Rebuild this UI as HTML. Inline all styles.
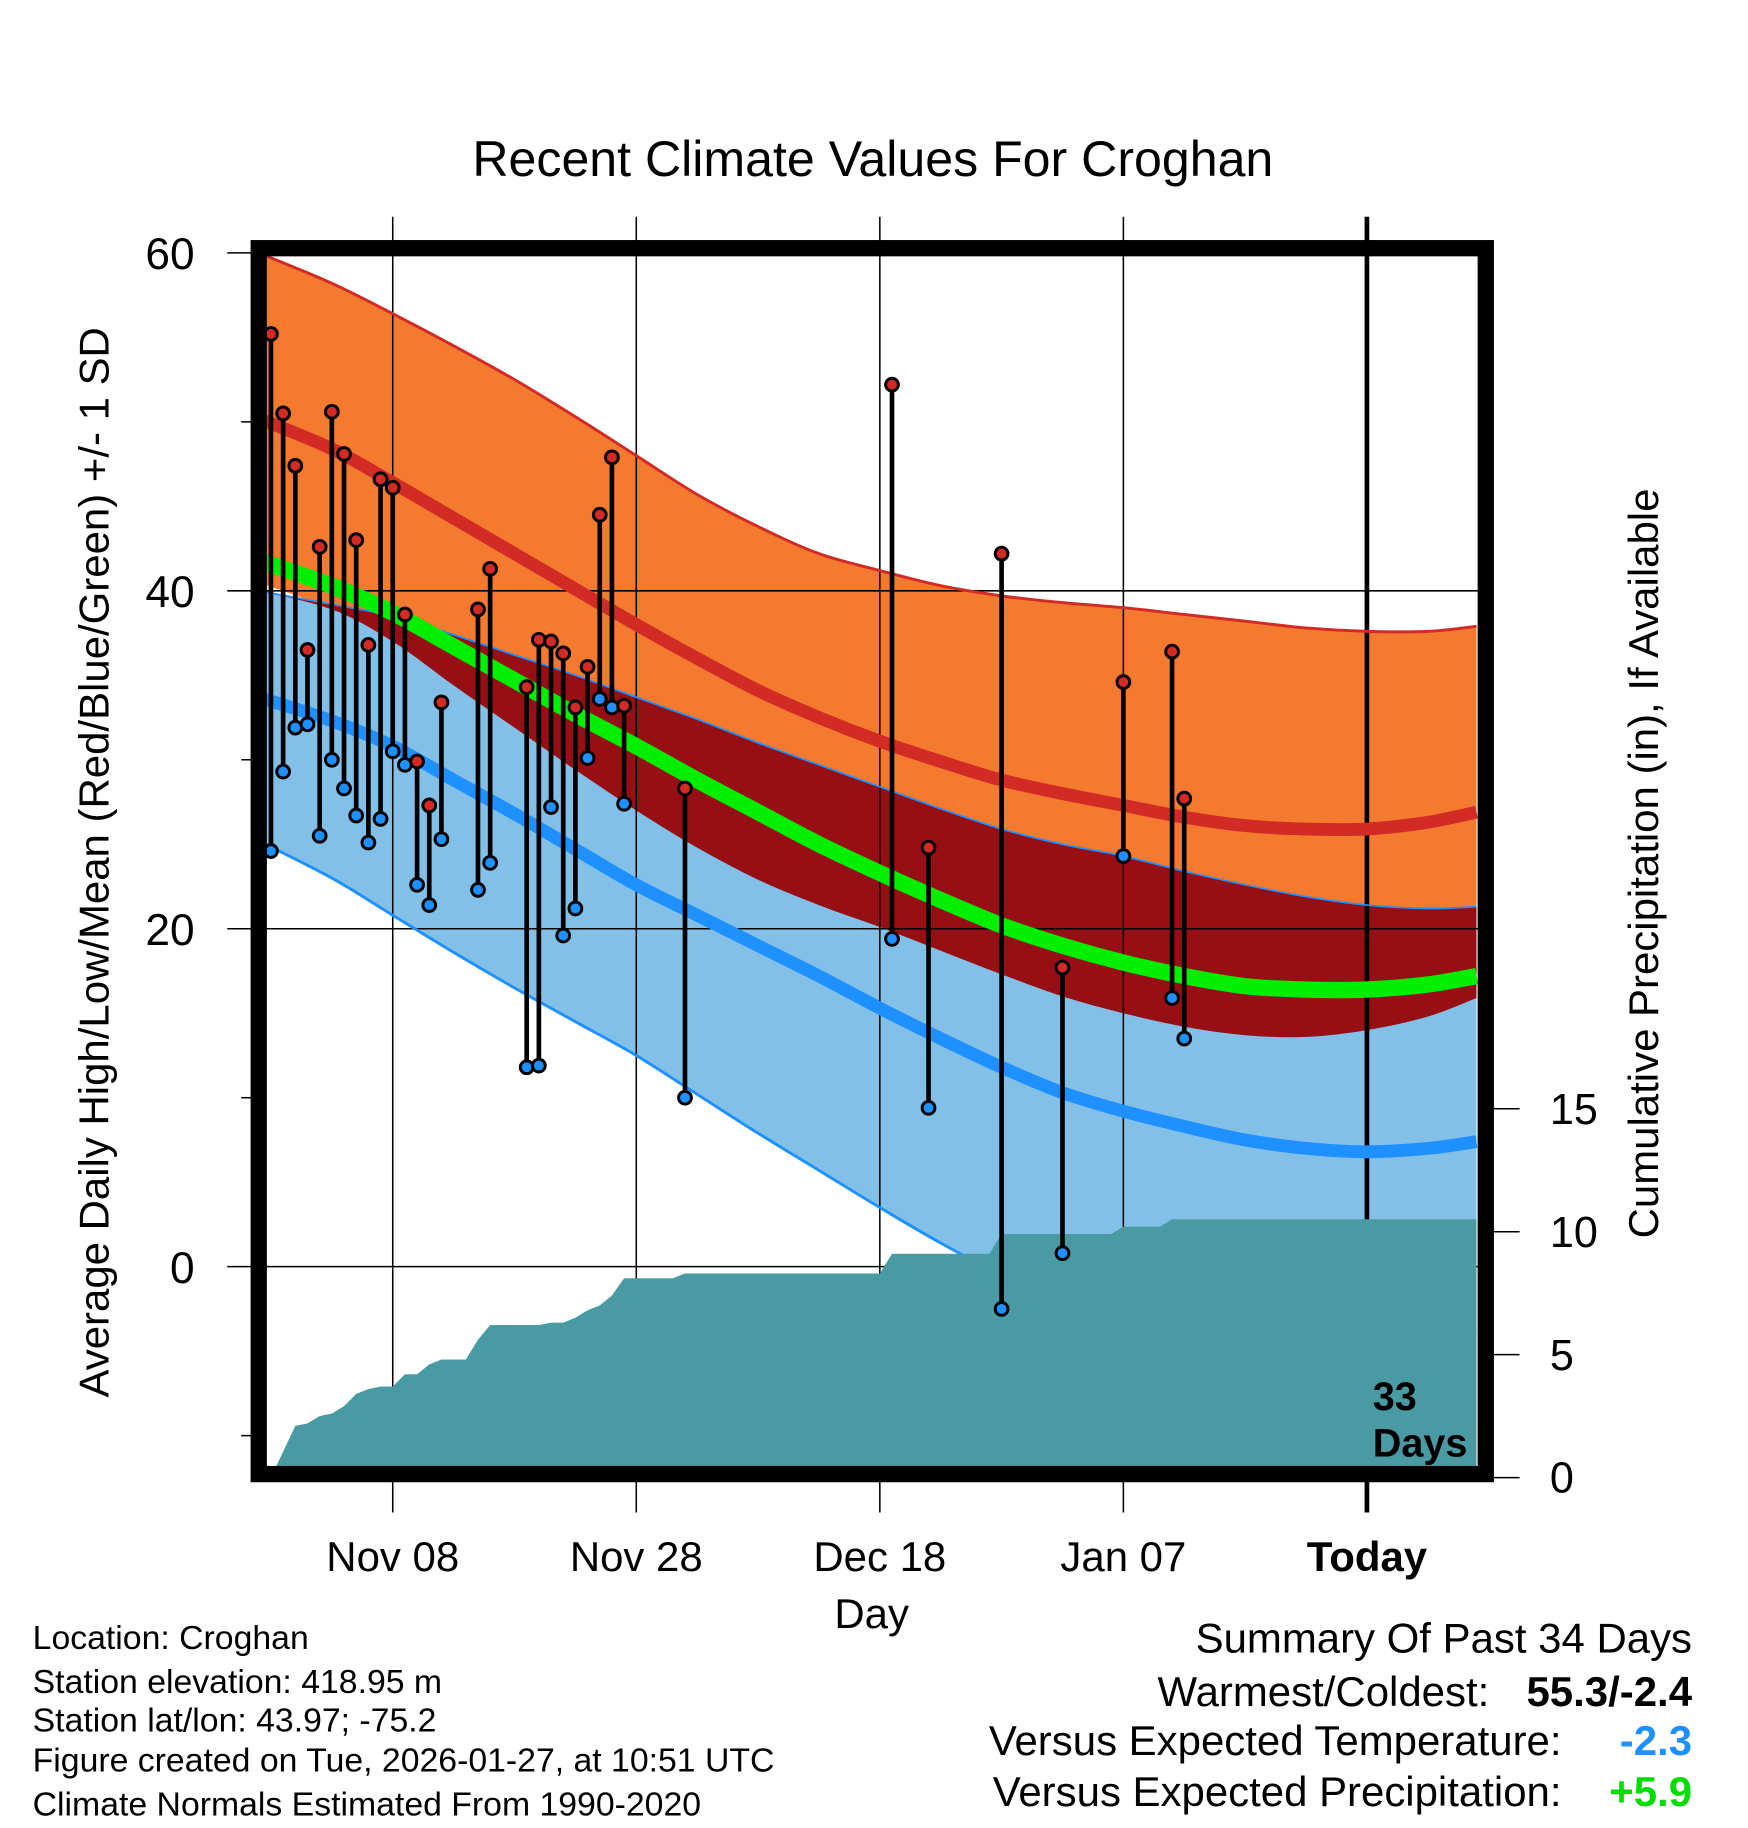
<!DOCTYPE html>
<html><head><meta charset="utf-8">
<style>
html,body{margin:0;padding:0;background:#fff;}
svg{display:block;font-family:"Liberation Sans",sans-serif;}
</style></head>
<body>
<svg id="chart" xmlns="http://www.w3.org/2000/svg" width="1748" height="1828" viewBox="0 0 1500 1568.7">
<defs><clipPath id="plotclip"><rect x="229" y="219" width="1040" height="1041"/></clipPath></defs>
<text x="749" y="151" font-size="43" text-anchor="middle">Recent Climate Values For Croghan</text>
<g id="fills" clip-path="url(#plotclip)"></g>
<g id="grid"></g>
<g id="precip" clip-path="url(#plotclip)"></g>
<g id="lines" clip-path="url(#plotclip)"></g>
<g id="obs"></g>
<rect x="222" y="213" width="1053" height="1052" fill="none" stroke="#000" stroke-width="14"/>
<g id="axes"></g>
<text transform="translate(93,740) rotate(-90)" font-size="36" text-anchor="middle">Average Daily High/Low/Mean (Red/Blue/Green) +/- 1 SD</text>
<text transform="translate(1423,741) rotate(-90)" font-size="36" text-anchor="middle">Cumulative Precipitation (in), If Available</text>
<text x="748" y="1397" font-size="36" text-anchor="middle">Day</text>
<text x="1178" y="1210" font-size="34" font-weight="bold">33</text>
<text x="1178" y="1250" font-size="34" font-weight="bold">Days</text>
<g font-size="29">
<text x="28" y="1415">Location: Croghan</text>
<text x="28" y="1453">Station elevation: 418.95 m</text>
<text x="28" y="1486">Station lat/lon: 43.97; -75.2</text>
<text x="28" y="1520">Figure created on Tue, 2026-01-27, at 10:51 UTC</text>
<text x="28" y="1558">Climate Normals Estimated From 1990-2020</text>
</g>
<g font-size="36" text-anchor="end">
<text x="1452" y="1418">Summary Of Past 34 Days</text>
<text x="1278" y="1464">Warmest/Coldest:</text>
<text x="1452" y="1464" font-weight="bold">55.3/-2.4</text>
<text x="1340" y="1506">Versus Expected Temperature:</text>
<text x="1452" y="1506" font-weight="bold" fill="#1e90ff">-2.3</text>
<text x="1340" y="1550">Versus Expected Precipitation:</text>
<text x="1452" y="1550" font-weight="bold" fill="#00dd00">+5.9</text>
</g>
</svg>
<script>
// data
const normDays = [-11,-5,0,5,10,15,20,25,30,35,40,45,50,55,60,65,70,75,80,85,89];
const hiPlusSD = [60,58.2,56.4,54.5,52.5,50.3,48.0,45.7,43.8,42.2,41.2,40.3,39.7,39.3,39.0,38.6,38.2,37.8,37.6,37.6,37.9];
const hiMean   = [50.2,48.4,46.4,44.3,42.2,40.1,38.0,36.0,34.1,32.5,31.1,29.9,28.8,28.0,27.3,26.6,26.1,25.9,25.9,26.3,26.9];
const hiMinusSD= [40.5,38.9,37.0,34.4,31.9,29.4,27.0,24.8,22.9,21.4,20.1,18.7,17.3,16.0,15.0,14.2,13.7,13.6,14.0,14.8,15.9];
const avgMean  = [41.8,40.3,38.7,36.7,34.7,32.7,30.8,28.8,26.9,25.0,23.3,21.7,20.2,19.0,18.0,17.2,16.6,16.4,16.4,16.7,17.2];
const loPlusSD = [40.0,39.2,38.5,37.4,36.2,35.0,33.7,32.4,31.0,29.7,28.4,27.1,25.9,25.0,24.3,23.4,22.6,21.9,21.4,21.2,21.3];
const loMean   = [33.7,32.3,30.8,28.8,26.8,24.7,22.6,20.8,19.0,17.2,15.3,13.5,11.8,10.3,9.2,8.3,7.5,7.0,6.8,7.0,7.4];
const loMinusSD= [25.2,23.0,20.8,18.6,16.5,14.5,12.5,10.2,7.9,5.7,3.5,1.4,-0.5,-2,-3,-4,-4.5,-4.8,-4.8,-4.5,-4];
const obsDays  = [-10,-9,-8,-7,-6,-5,-4,-3,-2,-1,0,1,2,3,4,7,8,11,12,13,14,15,16,17,18,19,24,41,44,50,55,60,64,65];
const obsHigh  = [55.2,50.5,47.4,36.5,42.6,50.6,48.1,43.0,36.8,46.6,46.1,38.6,29.9,27.3,33.4,38.9,41.3,34.3,37.1,37.0,36.3,33.1,35.5,44.5,47.9,33.2,28.3,52.2,24.8,42.2,17.7,34.6,36.4,27.7];
const obsLow   = [24.6,29.3,31.9,32.1,25.5,30.0,28.3,26.7,25.1,26.5,30.5,29.7,22.6,21.4,25.3,22.3,23.9,11.8,11.9,27.2,19.6,21.2,30.1,33.6,33.1,27.4,10.0,19.4,9.4,-2.5,0.8,24.3,15.9,13.5];
const precipDays = [-10,-8,-7,-6,-5,-4,-3,-2,-1,0,1,2,3,4,6,7,8,12,13,14,15,16,17,18,19,23,24,40,41,49,50,59,60,63,64,89];
const precipCum  = [0,2.1,2.2,2.5,2.6,2.9,3.4,3.6,3.7,3.7,4.2,4.2,4.6,4.8,4.8,5.6,6.2,6.2,6.3,6.3,6.5,6.8,7.0,7.4,8.1,8.1,8.3,8.3,9.1,9.1,9.9,9.9,10.2,10.2,10.5,10.5];
const xTickDays = [0,20,40,60,80];
const xTickLabels = ["Nov 08","Nov 28","Dec 18","Jan 07","Today"];
const yTicks = [60,40,20,0];
const yMinor = [50,30,10,-10];
const pTicks = [0,5,10,15];

const NS="http://www.w3.org/2000/svg";
const X = d => 337 + 10.45*d;
const Y = t => 1087 - 14.5*t;
const P = p => 1268 - 21.1*p;
function mk(tag, parent, attrs){const e=document.createElementNS(NS,tag);for(const k in attrs)e.setAttribute(k,attrs[k]);parent.appendChild(e);return e;}
function pts(vals){return normDays.map((d,i)=>[X(d),Y(vals[i])]);}
function smooth(p){let s="M"+p[0][0]+","+p[0][1];for(let i=0;i<p.length-1;i++){const p0=p[Math.max(i-1,0)],p1=p[i],p2=p[i+1],p3=p[Math.min(i+2,p.length-1)];
 s+=" C"+(p1[0]+(p2[0]-p0[0])/6)+","+(p1[1]+(p2[1]-p0[1])/6)+" "+(p2[0]-(p3[0]-p1[0])/6)+","+(p2[1]-(p3[1]-p1[1])/6)+" "+p2[0]+","+p2[1];}return s;}
function band(top,bot){const a=smooth(pts(top));const b=smooth(pts(bot).reverse());return a+" L"+b.slice(1)+" Z";}
const fills=document.getElementById('fills');
let e;
e=mk('path',fills,{d:band(hiPlusSD,hiMinusSD),fill:'#f47a30'});


e=mk('path',fills,{d:band(loPlusSD,loMinusSD),fill:'#82c0e8'});


const overlapBot=loPlusSD.map((v,i)=>Math.min(v,hiMinusSD[i]));
e=mk('path',fills,{d:band(loPlusSD,overlapBot),fill:'#960f14'});



const grid=document.getElementById('grid');
xTickDays.forEach((d,i)=>{
  e=mk('line',grid,{x1:X(d),x2:X(d),y1:186,y2:1298,stroke:'#000','stroke-width':i==4?4:1.3});
  
  
});
yTicks.forEach(t=>{
  e=mk('line',grid,{x1:195,x2:1275,y1:Y(t),y2:Y(t),stroke:'#000','stroke-width':1.3});
  
  
});

const precip=document.getElementById('precip');
let pd="M"+X(precipDays[0])+","+P(-1);
precipDays.forEach((d,i)=>{pd+=" L"+X(d)+","+P(precipCum[i]);});
pd+=" L"+X(precipDays[precipDays.length-1])+","+P(-1)+" Z";
e=mk('path',precip,{d:pd,fill:'#4a9aa4'});



const lines=document.getElementById('lines');
[[hiPlusSD,'#d22a24',2.5,'high-plus-sd-line'],[hiMean,'#d22a24',11,'high-mean-line'],[loPlusSD,'#1e90ff',1.5,'low-plus-sd-line'],[loMinusSD,'#1e90ff',2.5,'low-minus-sd-line'],[loMean,'#1e90ff',11,'low-mean-line'],[avgMean,'#00ee00',14,'mean-line']].forEach(s=>{
  e=mk('path',lines,{d:smooth(pts(s[0])),fill:'none',stroke:s[1],'stroke-width':s[2]});
  
  
});
e=mk('path',lines,{d:pd,fill:'#4a9aa4'});



const obs=document.getElementById('obs');
obsDays.forEach((d,i)=>{
  e=mk('line',obs,{x1:X(d),x2:X(d),y1:Y(obsHigh[i]),y2:Y(obsLow[i]),stroke:'#000','stroke-width':4});
  
  
  e=mk('circle',obs,{cx:X(d),cy:Y(obsHigh[i]),r:5.5,fill:'#d22a24',stroke:'#000','stroke-width':2.5});
  
  
  e=mk('circle',obs,{cx:X(d),cy:Y(obsLow[i]),r:5.5,fill:'#1e90ff',stroke:'#000','stroke-width':2.5});
  
  
});

const axes=document.getElementById('axes');
yTicks.forEach(t=>{
  e=mk('text',axes,{x:167,y:Y(t)+14,'font-size':38,'text-anchor':'end'});
  e.textContent=t;
  
  
});
yMinor.forEach(t=>{
  e=mk('line',axes,{x1:207,x2:218,y1:Y(t),y2:Y(t),stroke:'#000','stroke-width':1.3});
  
  
});
pTicks.forEach(p=>{
  e=mk('line',axes,{x1:1282,x2:1304,y1:P(p),y2:P(p),stroke:'#000','stroke-width':1.3});
  
  
  e=mk('text',axes,{x:1330,y:P(p)+13,'font-size':37});
  e.textContent=p;
  
  
});
xTickDays.forEach((d,i)=>{
  e=mk('text',axes,{x:X(d),y:1348,'font-size':36,'text-anchor':'middle','font-weight':i==4?'bold':'normal'});
  e.textContent=xTickLabels[i];
  
  
});
</script>
</body></html>
